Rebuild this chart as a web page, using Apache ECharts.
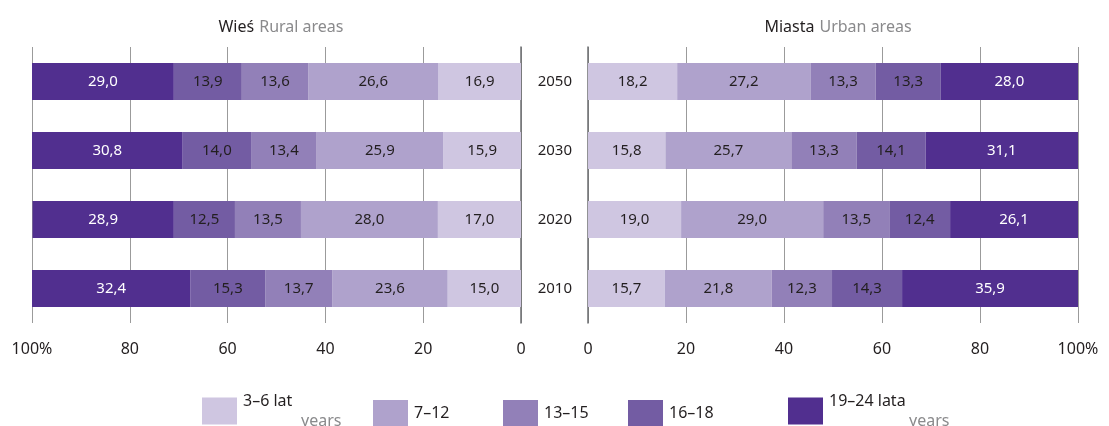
<!DOCTYPE html>
<html>
<head>
<meta charset="utf-8">
<script src="https://cdn.jsdelivr.net/npm/echarts@6/dist/echarts.min.js"></script>
<style>
  html, body { margin: 0; padding: 0; background: #fff; }
  #chart { width: 1109px; height: 426px; }
</style>
</head>
<body>
<div id="chart"></div>
<script>
// years, bottom to top
var years = ['2010', '2020', '2030', '2050'];
var groups = ['3–6', '7–12', '13–15', '16–18', '19–24'];

// Wieś / Rural areas
var rural36 = [15.0, 17.0, 15.9, 16.9];
var rural712 = [23.6, 28.0, 25.9, 26.6];
var rural1315 = [13.7, 13.5, 13.4, 13.6];
var rural1618 = [15.3, 12.5, 14.0, 13.9];
var rural1924 = [32.4, 28.9, 30.8, 29.0];

// Miasta / Urban areas
var urban36 = [15.7, 19.0, 15.8, 18.2];
var urban712 = [21.8, 29.0, 25.7, 27.2];
var urban1315 = [12.3, 13.5, 13.3, 13.3];
var urban1618 = [14.3, 12.4, 14.1, 13.3];
var urban1924 = [35.9, 26.1, 31.1, 28.0];

var colors = ['#cfc6e1', '#afa2cc', '#9280b8', '#735ca3', '#512f8f'];
var labelColors = ['#231f20', '#231f20', '#231f20', '#231f20', '#ffffff'];
var font = 'Noto Sans';

var ruralData = [rural36, rural712, rural1315, rural1618, rural1924];
var urbanData = [urban36, urban712, urban1315, urban1618, urban1924];

function fmt(v) {
  return v.toFixed(1).replace('.', ',');
}

function makeSeries(dataSets, idx, stack) {
  return dataSets.map(function (d, i) {
    return {
      name: groups[i],
      type: 'bar',
      stack: stack,
      xAxisIndex: idx,
      yAxisIndex: idx,
      barWidth: 37,
      itemStyle: { color: colors[i] },
      label: {
        show: true,
        position: 'inside',
        color: labelColors[i],
        fontFamily: font,
        fontSize: 15,
        formatter: function (p) { return fmt(p.value); }
      },
      data: d
    };
  });
}

function xAxisFor(idx, inverse) {
  return {
    type: 'value',
    gridIndex: idx,
    min: 0,
    max: 100,
    interval: 20,
    inverse: inverse,
    axisLine: { show: false },
    axisTick: { show: false },
    splitLine: { show: true, lineStyle: { color: '#9b9b9b', width: 1 } },
    axisLabel: {
      margin: 18,
      color: '#231f20',
      fontFamily: font,
      fontSize: 16,
      formatter: function (v) { return v === 100 ? '100%' : String(v); }
    }
  };
}

var legendTexts = [
  '{a|3–6 lat}\n{b|years}',
  '{a|7–12}',
  '{a|13–15}',
  '{a|16–18}',
  '{a|19–24 lata}\n{c|years}'
];
var legendLeft = [197, 368, 498, 623, 783];

var legends = groups.map(function (g, i) {
  var twoLines = legendTexts[i].indexOf('\n') >= 0;
  return {
    data: [g],
    left: legendLeft[i],
    top: twoLines ? 388 : 395,
    itemWidth: 35,
    itemHeight: 27,
    itemGap: 0,
    icon: 'rect',
    selectedMode: false,
    formatter: function () { return legendTexts[i]; },
    textStyle: {
      padding: [0, 0, 0, 1],
      rich: {
        a: { fontFamily: font, fontSize: 16, color: '#231f20', lineHeight: 20 },
        b: { fontFamily: font, fontSize: 16, color: '#8a8a8c', lineHeight: 20, padding: [0, 0, 0, 58] },
        c: { fontFamily: font, fontSize: 16, color: '#8a8a8c', lineHeight: 20, padding: [0, 0, 0, 80] }
      }
    }
  };
});

var titleRich = {
  a: { fontFamily: font, fontSize: 16, color: '#231f20', fontWeight: 'normal' },
  b: { fontFamily: font, fontSize: 16, color: '#8a8a8c', fontWeight: 'normal' }
};

var chart = echarts.init(document.getElementById('chart'));
chart.setOption({
  animation: false,
  color: colors,
  title: [
    {
      text: '{a|Wieś} {b|Rural areas}',
      left: 276, top: 13, textAlign: 'center',
      textStyle: { fontWeight: 'normal', rich: titleRich }
    },
    {
      text: '{a|Miasta} {b|Urban areas}',
      left: 833, top: 13, textAlign: 'center',
      textStyle: { fontWeight: 'normal', rich: titleRich }
    }
  ],
  legend: legends,
  grid: [
    { left: 32, width: 489, top: 47, height: 276 },
    { left: 588, width: 490, top: 47, height: 276 }
  ],
  xAxis: [xAxisFor(0, true), xAxisFor(1, false)],
  yAxis: [
    {
      type: 'category', gridIndex: 0, data: years, position: 'right',
      axisLine: { show: true, lineStyle: { color: '#6d6e71', width: 1.5 } },
      axisTick: { show: false },
      axisLabel: { show: false }
    },
    {
      type: 'category', gridIndex: 1, data: years, position: 'left',
      axisLine: { show: true, lineStyle: { color: '#6d6e71', width: 1.5 } },
      axisTick: { show: false },
      axisLabel: { margin: 16, color: '#231f20', fontFamily: font, fontSize: 15 }
    }
  ],
  series: makeSeries(ruralData, 0, 'rural').concat(makeSeries(urbanData, 1, 'urban'))
});
</script>
</body>
</html>
